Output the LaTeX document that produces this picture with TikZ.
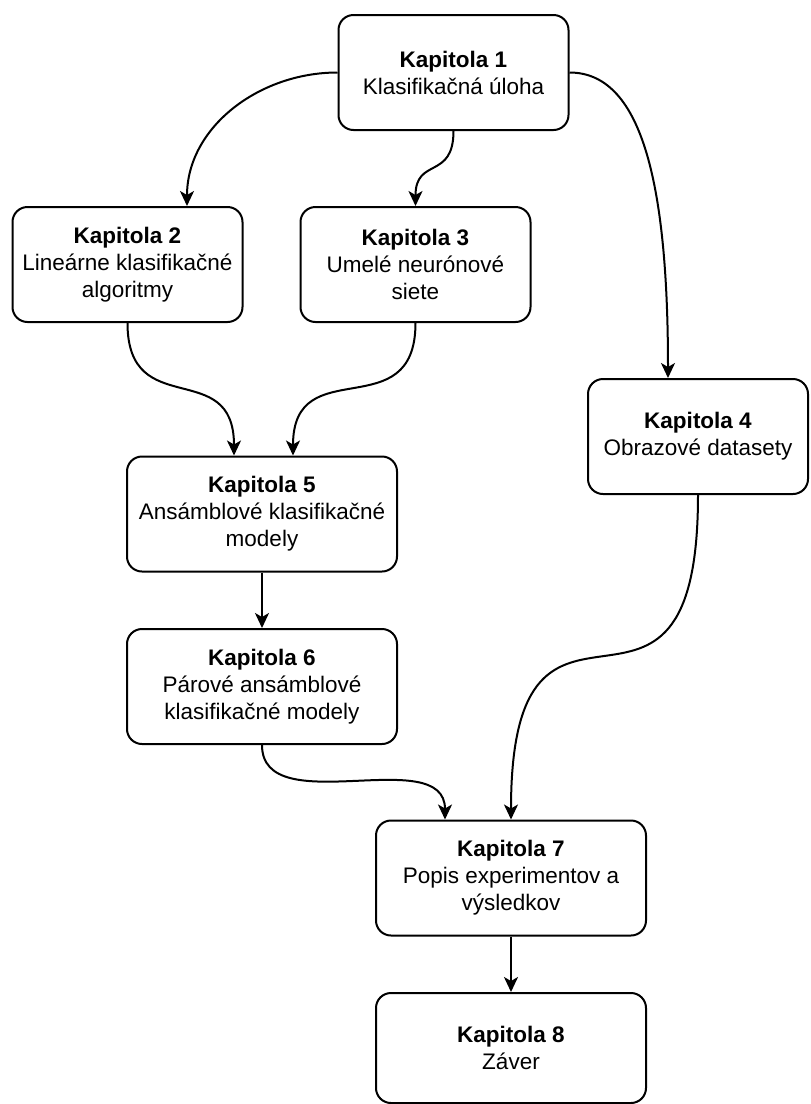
\documentclass[tikz,border=0pt]{standalone}
\usepackage{fontspec}
\setmainfont{Liberation Sans}
\usetikzlibrary{arrows.meta,calc}

\tikzset{
  chapter/.style={draw, line width=1pt, rounded corners=7.5pt, align=center,
    inner sep=0pt, minimum height=57.5pt,
    font=\fontsize{11.25}{13.5}\selectfont},
  narrow/.style={chapter, minimum width=115pt},
  wide/.style={chapter, minimum width=135pt},
  link/.style={line width=1pt, -{Stealth[length=7.5pt,width=7pt,inset=2pt]}}
}

\begin{document}
\begin{tikzpicture}[x=0.5pt,y=-0.5pt]
\useasboundingbox (0,0) rectangle (810,1104);

\node[narrow] (k1) at (453.5,72.5) {\textbf{Kapitola 1}\\Klasifikačná úloha};
\node[narrow] (k2) at (127.5,264.5) {\textbf{Kapitola 2}\\Lineárne klasifikačné\\algoritmy};
\node[narrow] (k3) at (415.5,264.5) {\textbf{Kapitola 3}\\Umelé neurónové\\siete};
\node[chapter, minimum width=110pt] (k4) at (698,436.5) {\textbf{Kapitola 4}\\Obrazové datasety};
\node[wide] (k5) at (262,514) {\textbf{Kapitola 5}\\Ansámblové klasifikačné\\modely};
\node[wide] (k6) at (262,686.5) {\textbf{Kapitola 6}\\Párové ansámblové\\klasifikačné modely};
\node[wide] (k7) at (511,878) {\textbf{Kapitola 7}\\Popis experimentov a\\výsledkov};
\node[wide, minimum height=55pt] (k8) at (511,1048) {\textbf{Kapitola 8}\\Záver};

\draw[link] (k1.west) to[out=180,in=90] ($(k2.north)+(59.5,0)$);
\draw[link] (k1.south) to[out=-90,in=90,looseness=1.5] (k3.north);
\draw[link] (k1.east) .. controls +(71,0) and +(0,-199) .. ($(k4.north)+(-30,0)$);

\draw[link] (k2.south) to[out=-90,in=90,looseness=1.5] ($(k5.north)+(-28,0)$);
\draw[link] (k3.south) to[out=-90,in=90,looseness=1.5] ($(k5.north)+(31,0)$);
\draw[link] (k5) -- (k6);

\draw[link] (k6.south) to[out=-90,in=90] ($(k7.north)+(-66,0)$);
\draw[link] (k4.south) to[out=-90,in=90,looseness=2] (k7.north);
\draw[link] (k7) -- (k8);
\end{tikzpicture}
\end{document}
